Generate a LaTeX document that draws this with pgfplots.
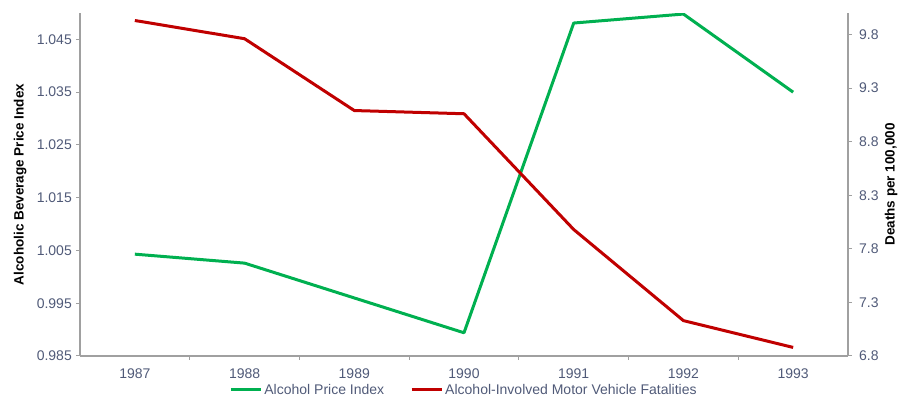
\documentclass[border=0pt]{standalone}
\usepackage{fontspec}
\setmainfont{Liberation Sans}
\usepackage{pgfplots}
\pgfplotsset{compat=1.18}

\definecolor{priceGreen}{RGB}{0,176,80}
\definecolor{fatalRed}{RGB}{192,0,0}
\definecolor{axisGray}{RGB}{160,160,160}
\definecolor{tickText}{RGB}{80,90,120}

\pgfplotsset{
  base/.style={
    scale only axis, width=768pt, height=343pt,
    xmin=-0.5, xmax=6.5,
    tick align=outside,
    major tick length=4pt, minor tick length=4pt,
    every tick/.style={draw=axisGray, line width=1pt},
    axis line style={draw=axisGray, line width=1.3pt},
    tick label style={font=\fontsize{14}{16}\selectfont, text=tickText},
    /pgf/number format/assume math mode=true,
    label style={font=\bfseries\fontsize{13.5}{15}\selectfont, text=black},
  },
}

\begin{document}
\begin{tikzpicture}
% Alcohol price index (left axis)
\begin{axis}[base,
  axis x line*=bottom, axis y line*=left,
  ymin=0.985, ymax=1.05,
  ytick={0.985,0.995,1.005,1.015,1.025,1.035,1.045},
  yticklabel style={anchor=east, inner sep=0pt, xshift=-4pt,
    /pgf/number format/.cd, fixed, fixed zerofill, precision=3},
  ylabel={Alcoholic Beverage Price Index},
  ylabel style={at={(axis description cs:-0.078,0.5)}, anchor=center},
  xtick={0,1,2,3,4,5,6},
  xticklabels={1987,1988,1989,1990,1991,1992,1993},
  minor xtick={0.5,1.5,2.5,3.5,4.5,5.5},
  every major x tick/.style={draw=none},
  xticklabel style={yshift=-5pt},
  legend columns=2,
  legend style={draw=none, fill=none, at={(0.5,0)}, yshift=-34pt, anchor=center,
    font=\fontsize{14}{16}\selectfont, text=tickText,
    /tikz/every even column/.append style={column sep=24pt}},
  legend image code/.code={\draw[#1, line width=3pt] (0pt,0pt) -- (30pt,0pt);},
]
\addplot[priceGreen, line width=3pt, line join=round] coordinates {
  (0,1.0043) (1,1.0026) (2,0.9960) (3,0.9894) (4,1.0481) (5,1.0498) (6,1.0350)
};
\addlegendentry{Alcohol Price Index}
\addlegendimage{fatalRed}
\addlegendentry{Alcohol-Involved Motor Vehicle Fatalities}
\end{axis}

% Alcohol-involved motor vehicle fatalities (right axis)
\begin{axis}[base,
  axis x line=none, axis y line*=right,
  ymin=6.8, ymax=10.0,
  ytick={6.8,7.3,7.8,8.3,8.8,9.3,9.8},
  yticklabel style={anchor=west, inner sep=0pt, xshift=7pt,
    /pgf/number format/.cd, fixed, fixed zerofill, precision=1},
  ylabel={Deaths per 100,000},
  ylabel style={at={(axis description cs:1.056,0.5)}, anchor=center},
]
\addplot[fatalRed, line width=3pt, line join=round] coordinates {
  (0,9.93) (1,9.76) (2,9.09) (3,9.06) (4,7.98) (5,7.13) (6,6.88)
};
\end{axis}

\pgfresetboundingbox
\path (-80pt,-40pt) rectangle (819pt,356pt);
\end{tikzpicture}
\end{document}
